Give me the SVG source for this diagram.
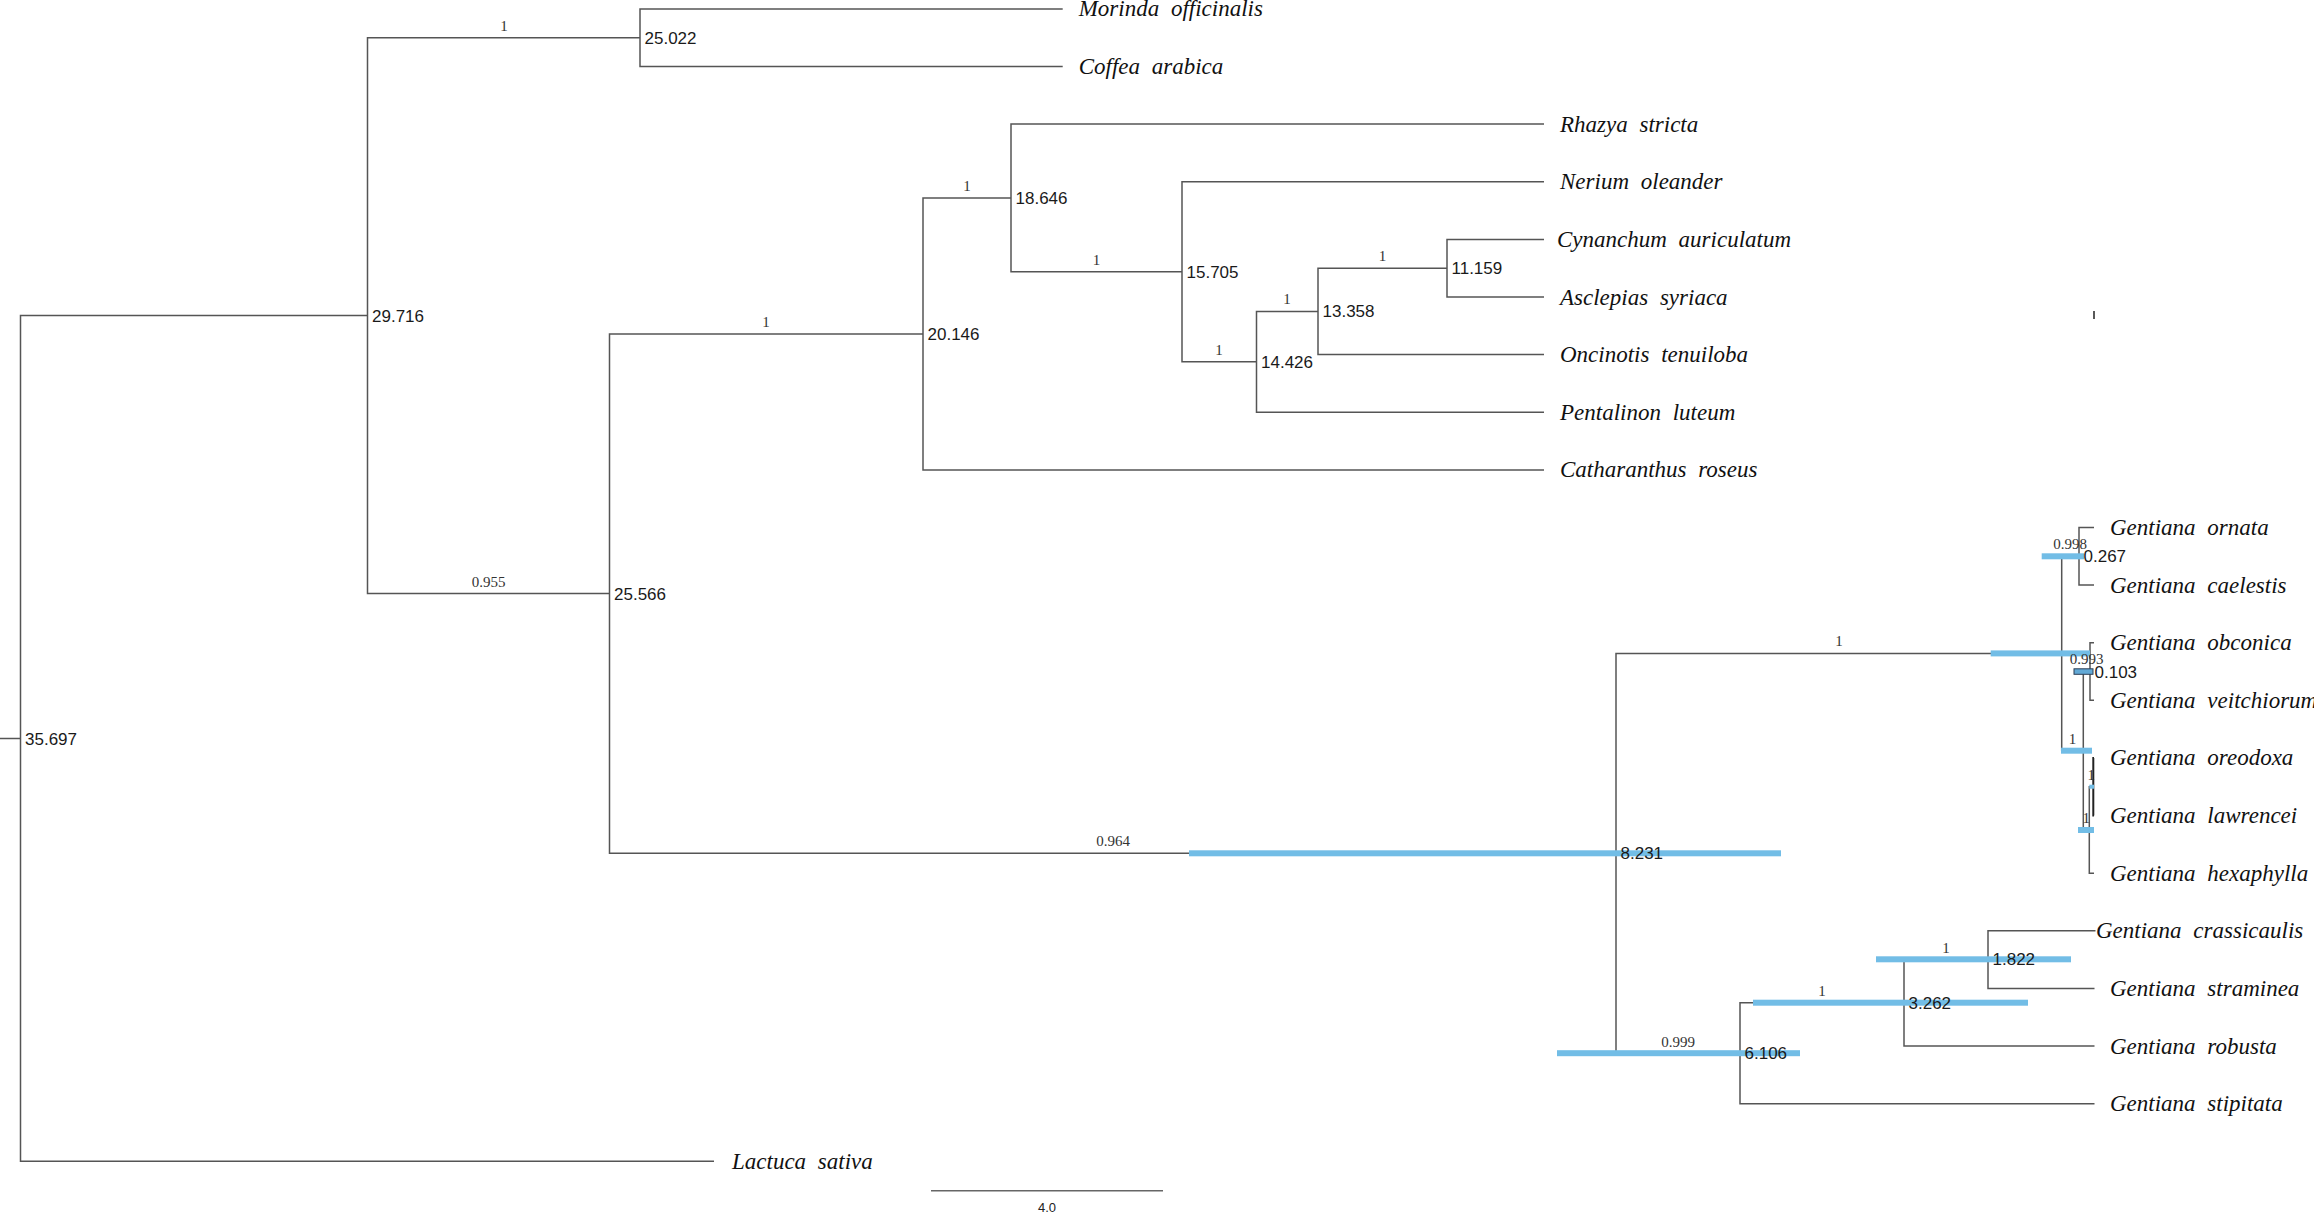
<svg xmlns="http://www.w3.org/2000/svg" width="2314" height="1213" viewBox="0 0 2314 1213">
<style>
.br{fill:none;stroke:#555;stroke-width:1.5}
.bar{fill:#72bde6}
.tip{font-family:"Liberation Serif",serif;font-style:italic;font-size:23px;fill:#111;word-spacing:6px}
.age{font-family:"Liberation Sans",Arial,sans-serif;font-size:17px;fill:#1a1a1a}
.pp{font-family:"Liberation Serif",serif;font-size:15px;fill:#333;text-anchor:middle}
</style>
<rect width="2314" height="1213" fill="#fff"/>
<g id="connectors">
<path class="br" d="M0 738.5H20.5M367.5 315.6H20.5V1161.3H714"/>
<path class="br" d="M640 37.7H367.5V593.6H609.5"/>
<path class="br" d="M1062.7 8.9H640V66.5H1062.7"/>
<path class="br" d="M923 333.9H609.5V853.3H1616"/>
<path class="br" d="M1011 197.9H923V469.9H1544"/>
<path class="br" d="M1544 124.1H1011V271.8H1182"/>
<path class="br" d="M1544 181.8H1182V361.8H1256.5"/>
<path class="br" d="M1318 311.4H1256.5V412.2H1544"/>
<path class="br" d="M1447 268.2H1318V354.6H1544"/>
<path class="br" d="M1544 239.4H1447V297H1544"/>
<path class="br" d="M2061.7 653.4H1616V1053.2H1740"/>
<path class="br" d="M2079 556.3H2061.7V750.7H2083.3"/>
<path class="br" d="M2094 527.5H2079V585.1H2094"/>
<path class="br" d="M2090 671.5H2083.3V830H2089.3"/>
<path class="br" d="M2094 642.7H2090V700.3H2094"/>
<path class="br" d="M2093.3 786.7H2089.3V873.2H2094"/>
<path class="br" d="M2094 757.9H2093.3V815.6H2094" style="stroke:#222;stroke-width:2"/>
<path class="br" d="M1904 1002.7H1740V1103.7H2094.5"/>
<path class="br" d="M1988 959.3H1904V1046H2094.5"/>
<path class="br" d="M2095.5 930.8H1988V988.4H2094.5"/>
<path d="M2094 311V319" stroke="#222" stroke-width="1.5"/>
</g>
<g id="node-root"><text class="age" x="25" y="744.5">35.697</text></g>
<g id="node-29716"><text class="age" x="372" y="321.6">29.716</text></g>
<g id="node-25022"><text class="pp" x="504" y="30.5">1</text><text class="age" x="644.5" y="43.7">25.022</text></g>
<g id="node-25566"><text class="pp" x="488.5" y="586.5">0.955</text><text class="age" x="614" y="599.6">25.566</text></g>
<g id="node-20146"><text class="pp" x="766" y="327">1</text><text class="age" x="927.5" y="339.9">20.146</text></g>
<g id="node-18646"><text class="pp" x="967" y="191">1</text><text class="age" x="1015.5" y="203.9">18.646</text></g>
<g id="node-15705"><text class="pp" x="1096.5" y="265">1</text><text class="age" x="1186.5" y="277.8">15.705</text></g>
<g id="node-14426"><text class="pp" x="1219" y="354.5">1</text><text class="age" x="1261" y="367.8">14.426</text></g>
<g id="node-13358"><text class="pp" x="1287" y="304">1</text><text class="age" x="1322.5" y="317.4">13.358</text></g>
<g id="node-11159"><text class="pp" x="1382.5" y="261">1</text><text class="age" x="1451.5" y="274.2">11.159</text></g>
<g id="node-8231"><rect class="bar" x="1189" y="850.3" width="592" height="6"/><text class="pp" x="1113" y="846">0.964</text><text class="age" x="1620.5" y="859.3">8.231</text></g>
<g id="node-ga"><rect class="bar" x="1990.7" y="650.4" width="99.3" height="6"/><text class="pp" x="1839" y="646">1</text></g>
<g id="node-0267"><rect class="bar" x="2041.7" y="553.3" width="42.3" height="6"/><text class="pp" x="2070" y="548.5">0.998</text><text class="age" x="2083.5" y="562.3">0.267</text></g>
<g id="node-gb"><rect class="bar" x="2061" y="747.7" width="31" height="6"/><text class="pp" x="2072.5" y="743.5">1</text></g>
<g id="node-0103"><rect x="2074" y="668.8" width="19" height="5.5" fill="#62a9d6" stroke="#2d3f55" stroke-width="1"/><text class="pp" x="2086.5" y="664">0.993</text><text class="age" x="2094.5" y="677.5">0.103</text></g>
<g id="node-gc"><rect class="bar" x="2078" y="827" width="16" height="6"/><text class="pp" x="2086.3" y="823">1</text></g>
<g id="node-gd"><rect class="bar" x="2089.3" y="784.7" width="4.7" height="4"/><text class="pp" x="2091.3" y="779.5">1</text></g>
<g id="node-6106"><rect class="bar" x="1557" y="1050.2" width="243" height="6"/><text class="pp" x="1678" y="1046.5">0.999</text><text class="age" x="1744.5" y="1059.2">6.106</text></g>
<g id="node-3262"><rect class="bar" x="1753" y="999.7" width="275" height="6"/><text class="pp" x="1822" y="996">1</text><text class="age" x="1908.5" y="1008.7">3.262</text></g>
<g id="node-1822"><rect class="bar" x="1876" y="956.3" width="195" height="6"/><text class="pp" x="1946" y="952.5">1</text><text class="age" x="1992.5" y="965.3">1.822</text></g>
<g id="tip-morinda"><text class="tip" x="1078.7" y="16.4">Morinda officinalis</text></g>
<g id="tip-coffea"><text class="tip" x="1078.7" y="74">Coffea arabica</text></g>
<g id="tip-rhazya"><text class="tip" x="1560" y="131.6">Rhazya stricta</text></g>
<g id="tip-nerium"><text class="tip" x="1560" y="189.3">Nerium oleander</text></g>
<g id="tip-cynanchum"><text class="tip" x="1557" y="246.9">Cynanchum auriculatum</text></g>
<g id="tip-asclepias"><text class="tip" x="1560" y="304.5">Asclepias syriaca</text></g>
<g id="tip-oncinotis"><text class="tip" x="1560" y="362.1">Oncinotis tenuiloba</text></g>
<g id="tip-pentalinon"><text class="tip" x="1560" y="419.7">Pentalinon luteum</text></g>
<g id="tip-catharanthus"><text class="tip" x="1560" y="477.4">Catharanthus roseus</text></g>
<g id="tip-ornata"><text class="tip" x="2110" y="535">Gentiana ornata</text></g>
<g id="tip-caelestis"><text class="tip" x="2110" y="592.6">Gentiana caelestis</text></g>
<g id="tip-obconica"><text class="tip" x="2110" y="650.2">Gentiana obconica</text></g>
<g id="tip-veitchiorum"><text class="tip" x="2110" y="707.8">Gentiana veitchiorum</text></g>
<g id="tip-oreodoxa"><text class="tip" x="2110" y="765.4">Gentiana oreodoxa</text></g>
<g id="tip-lawrencei"><text class="tip" x="2110" y="823.1">Gentiana lawrencei</text></g>
<g id="tip-hexaphylla"><text class="tip" x="2110" y="880.7">Gentiana hexaphylla</text></g>
<g id="tip-crassicaulis"><text class="tip" x="2096" y="938.3">Gentiana crassicaulis</text></g>
<g id="tip-straminea"><text class="tip" x="2110" y="995.9">Gentiana straminea</text></g>
<g id="tip-robusta"><text class="tip" x="2110" y="1053.5">Gentiana robusta</text></g>
<g id="tip-stipitata"><text class="tip" x="2110" y="1111.2">Gentiana stipitata</text></g>
<g id="tip-lactuca"><text class="tip" x="732" y="1168.8">Lactuca sativa</text></g>
<g id="scale-bar"><path d="M931 1190.7H1163" stroke="#666" stroke-width="1.5"/><text x="1047" y="1212" font-family="Liberation Sans, Arial, sans-serif" font-size="13" text-anchor="middle" fill="#222">4.0</text></g>
</svg>
